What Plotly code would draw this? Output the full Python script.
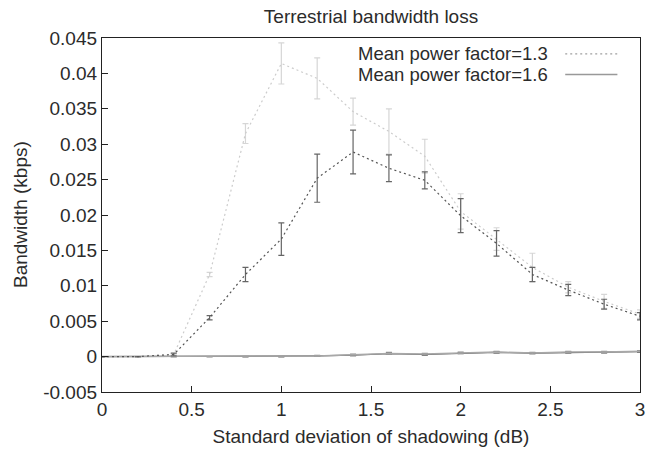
import plotly.graph_objects as go

x = [0, 0.2, 0.4, 0.6, 0.8, 1.0, 1.2, 1.4, 1.6, 1.8, 2.0, 2.2, 2.4, 2.6, 2.8, 3.0]

# Mean power factor = 1.3 (light dotted)
light_dot = [0, 0, 0.0003, 0.0116, 0.0315, 0.0414, 0.0393, 0.0346, 0.0318, 0.0283, 0.0205, 0.0166, 0.0126, 0.0098, 0.0078, 0.0060]
light_dot_err = [0, 0, 0.0001, 0.0003, 0.0014, 0.0029, 0.0029, 0.0019, 0.0032, 0.0024, 0.0025, 0.0016, 0.0020, 0.0008, 0.0010, 0.0006]
# Mean power factor = 1.3 (dark dotted)
dark_dot = [0, 0, 0.0003, 0.0055, 0.0116, 0.0166, 0.0252, 0.0289, 0.0266, 0.0249, 0.0199, 0.0160, 0.0116, 0.0094, 0.0074, 0.0057]
dark_dot_err = [0, 0, 0.0002, 0.0003, 0.0010, 0.0023, 0.0034, 0.0031, 0.0019, 0.0012, 0.0024, 0.0018, 0.0010, 0.0008, 0.0007, 0.0005]
# Mean power factor = 1.6 (solid)
light_sol = [0, 0, 0, 0, 0, 0, 0.0001, 0.00025, 0.00045, 0.00035, 0.00055, 0.00065, 0.0005, 0.00065, 0.00065, 0.00075]
light_sol_err = [0, 0, 0, 0, 0.00005, 0.00005, 0.00008, 0.0001, 0.00015, 0.0001, 0.0001, 0.0001, 0.0001, 0.0001, 0.0001, 0.0001]
dark_sol = [0, 0, 0, 0, 0, 0, 0.0001, 0.0002, 0.0004, 0.0003, 0.0005, 0.0006, 0.0005, 0.0006, 0.0006, 0.0007]
dark_sol_err = [0, 0, 0, 0, 0, 0, 0.00005, 0.00005, 0.00008, 0.00008, 0.00008, 0.00008, 0.00008, 0.00008, 0.00008, 0.00008]

legend_names = ["Mean power factor=1.3", "Mean power factor=1.6"]
y_ticks = [-0.005, 0, 0.005, 0.01, 0.015, 0.02, 0.025, 0.03, 0.035, 0.04, 0.045]
y_tick_labels = ["-0.005", "0", "0.005", "0.01", "0.015", "0.02", "0.025", "0.03", "0.035", "0.04", "0.045"]
x_ticks = [0, 0.5, 1, 1.5, 2, 2.5, 3]
x_tick_labels = ["0", "0.5", "1", "1.5", "2", "2.5", "3"]

FONT = "Liberation Sans, Arial, sans-serif"
TXT = "#2b2b2b"
FS = 19

fig = go.Figure()

def add(yv, err, color, ecolor, dash, width):
    fig.add_trace(go.Scatter(
        x=x, y=yv, mode="lines",
        line=dict(color=color, dash=dash, width=width),
        error_y=dict(type="data", array=err, visible=True, color=ecolor, thickness=1.2, width=3),
        showlegend=False, hoverinfo="skip"))

add(dark_sol, dark_sol_err, "#555555", "#555555", "solid", 1.2)
add(light_sol, light_sol_err, "#a8a8a8", "#8a8a8a", "solid", 1.5)
add(light_dot, light_dot_err, "#cccccc", "#d6d6d6", "2px,3px", 1.2)
add(dark_dot, dark_dot_err, "#555555", "#666666", "2px,3px", 1.2)

axis_common = dict(
    showline=True, linecolor="#222222", linewidth=1.3, mirror=True,
    ticks="inside", ticklen=6, tickcolor="#222222", tickwidth=1,
    showgrid=False, zeroline=False, automargin=False,
    ticklabeloverflow="allow",
    tickfont=dict(family=FONT, size=FS, color=TXT),
)

fig.update_layout(
    width=646, height=450,
    margin=dict(l=102, r=6, t=38, b=58),
    paper_bgcolor="white", plot_bgcolor="white",
    showlegend=False,
    title=dict(text="Terrestrial bandwidth loss", x=(102 + 538 / 2) / 646, xanchor="center",
               y=0.964, yanchor="middle",
               font=dict(family=FONT, size=FS, color=TXT)),
    xaxis=dict(range=[0, 3], tickvals=x_ticks, ticktext=x_tick_labels,
               title=dict(text="Standard deviation of shadowing (dB)", font=dict(family=FONT, size=FS, color=TXT), standoff=10),
               **axis_common),
    yaxis=dict(range=[-0.005, 0.045], tickvals=y_ticks, ticktext=y_tick_labels,
               **axis_common),
)

fig.add_annotation(text="Bandwidth (kbps)", xref="paper", yref="paper", x=-0.1524, y=0.5,
                   textangle=-90, xanchor="center", yanchor="middle", showarrow=False,
                   font=dict(family=FONT, size=FS, color=TXT))

# Legend (text left of sample line, gnuplot style)
leg_y = [0.955, 0.897]
leg_styles = [dict(color="#a0a0a0", dash="2px,3px", width=1.2), dict(color="#999999", dash="solid", width=1.5)]
for name, yy, st in zip(legend_names, leg_y, leg_styles):
    fig.add_annotation(text=name, xref="paper", yref="paper", x=0.833, y=yy,
                       xanchor="right", yanchor="middle", showarrow=False,
                       font=dict(family=FONT, size=18.5, color=TXT))
    fig.add_shape(type="line", xref="paper", yref="paper", x0=0.861, x1=0.958, y0=yy, y1=yy,
                  line=st)

fig.write_html(
    "out.html",
    config={"displayModeBar": False},
    post_script="document.body.style.margin='0';document.body.style.overflow='hidden';",
)
